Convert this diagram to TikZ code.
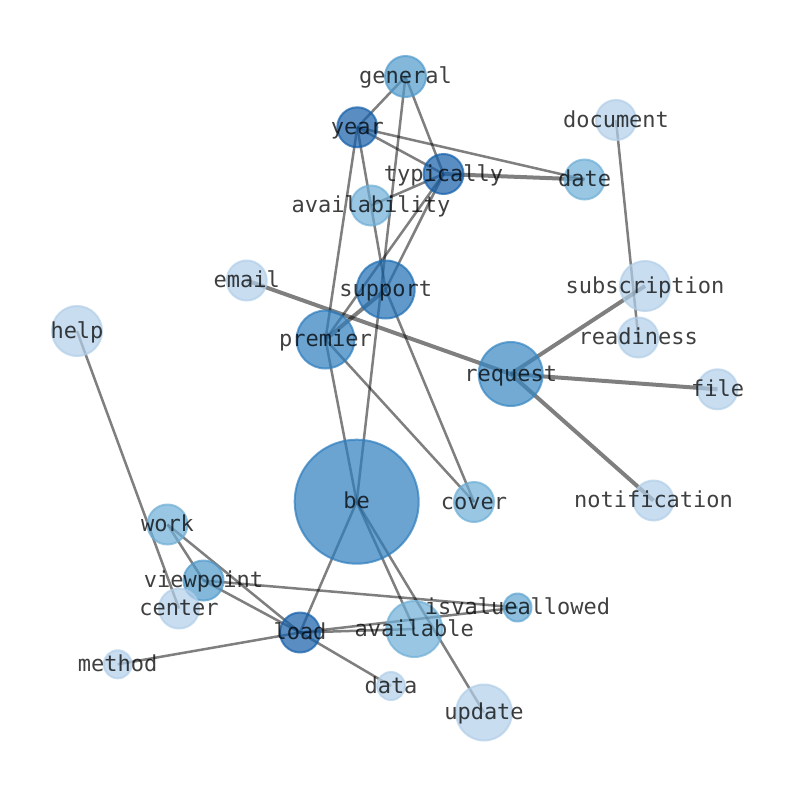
\documentclass[tikz,border=0pt]{standalone}
\usepackage{fontspec}
\setmonofont{DejaVu Sans Mono}
\definecolor{cA}{RGB}{20,95,170}
\definecolor{cB}{RGB}{30,110,180}
\definecolor{cC}{RGB}{45,125,190}
\definecolor{cD}{RGB}{55,135,195}
\definecolor{cE}{RGB}{80,155,205}
\definecolor{cF}{RGB}{95,165,210}
\definecolor{cG}{RGB}{110,175,215}
\definecolor{cL}{RGB}{178,207,233}
\begin{document}
\begin{tikzpicture}[x=1pt,y=-1pt,
  edge/.style={draw=black,draw opacity=0.5,line width=2.5pt},
  edgeb/.style={edge,line width=4pt},
  nd/.style 2 args={circle,inner sep=0pt,minimum size=#1,fill=#2,fill opacity=0.7,draw=#2,draw opacity=0.7,line width=2pt},
  lbl/.style={inner sep=0pt,anchor=base,yshift=-7pt,font=\fontsize{22}{26}\selectfont\ttfamily,text=black,text opacity=0.75}]
\fill[white] (0,0) rectangle (794,790);
\useasboundingbox (0,0) rectangle (794,790);
% positions
\coordinate (general) at (405.5,76.5);
\coordinate (year) at (357.3,127.3);
\coordinate (typically) at (443.5,174);
\coordinate (date) at (584.5,179.5);
\coordinate (document) at (616,120);
\coordinate (availability) at (371,205.5);
\coordinate (email) at (246.7,280.5);
\coordinate (support) at (385.7,289.5);
\coordinate (subscription) at (645,286);
\coordinate (premier) at (325.5,339.5);
\coordinate (readiness) at (638.3,337.5);
\coordinate (help) at (77,331);
\coordinate (request) at (510.7,374);
\coordinate (file) at (717.5,389.3);
\coordinate (be) at (356.7,501.7);
\coordinate (cover) at (474,502);
\coordinate (notification) at (653.5,500.5);
\coordinate (work) at (167.5,524.5);
\coordinate (viewpoint) at (203.5,580.5);
\coordinate (center) at (179,608.5);
\coordinate (isvalueallowed) at (517.5,607.5);
\coordinate (available) at (414.3,629);
\coordinate (load) at (300,632.5);
\coordinate (method) at (117.7,664.3);
\coordinate (data) at (391,686);
\coordinate (update) at (484,712.5);
% edges
\draw[edge] (general) -- (year);
\draw[edge] (general) -- (typically);
\draw[edge] (general) -- (be);
\draw[edge] (year) -- (typically);
\draw[edge] (year) -- (date);
\draw[edge] (year) -- (premier);
\draw[edge] (year) -- (support);
\draw[edgeb] (typically) -- (date);
\draw[edge] (typically) -- (availability);
\draw[edge] (typically) -- (premier);
\draw[edge] (typically) -- (support);
\draw[edgeb] (support) -- (premier);
\draw[edge] (support) -- (cover);
\draw[edge] (premier) -- (be);
\draw[edge] (premier) -- (cover);
\draw[edgeb] (email) -- (request);
\draw[edgeb] (request) -- (subscription);
\draw[edgeb] (request) -- (file);
\draw[edgeb] (request) -- (notification);
\draw[edge] (document) -- (readiness);
\draw[edge] (help) -- (center);
\draw[edge] (be) -- (load);
\draw[edge] (be) -- (available);
\draw[edge] (be) -- (update);
\draw[edge] (work) -- (viewpoint);
\draw[edge] (work) -- (load);
\draw[edge] (viewpoint) -- (load);
\draw[edge] (viewpoint) -- (isvalueallowed);
\draw[edge] (load) -- (available);
\draw[edge] (load) -- (isvalueallowed);
\draw[edge] (load) -- (method);
\draw[edge] (load) -- (data);
% nodes
\node[nd={41}{cE}] (n-general) at (general) {};
\node[nd={40}{cA}] (n-year) at (year) {};
\node[nd={40}{cA}] (n-typically) at (typically) {};
\node[nd={40}{cG}] (n-date) at (date) {};
\node[nd={40}{cL}] (n-document) at (document) {};
\node[nd={40}{cG}] (n-availability) at (availability) {};
\node[nd={40}{cL}] (n-email) at (email) {};
\node[nd={58}{cB}] (n-support) at (support) {};
\node[nd={50}{cL}] (n-subscription) at (subscription) {};
\node[nd={58}{cC}] (n-premier) at (premier) {};
\node[nd={40}{cL}] (n-readiness) at (readiness) {};
\node[nd={50}{cL}] (n-help) at (help) {};
\node[nd={64}{cD}] (n-request) at (request) {};
\node[nd={40}{cL}] (n-file) at (file) {};
\node[nd={124}{cC}] (n-be) at (be) {};
\node[nd={40}{cG}] (n-cover) at (cover) {};
\node[nd={40}{cL}] (n-notification) at (notification) {};
\node[nd={40}{cG}] (n-work) at (work) {};
\node[nd={40}{cE}] (n-viewpoint) at (viewpoint) {};
\node[nd={40}{cL}] (n-center) at (center) {};
\node[nd={28}{cF}] (n-isvalueallowed) at (isvalueallowed) {};
\node[nd={56}{cG}] (n-available) at (available) {};
\node[nd={40}{cA}] (n-load) at (load) {};
\node[nd={28}{cL}] (n-method) at (method) {};
\node[nd={28}{cL}] (n-data) at (data) {};
\node[nd={56}{cL}] (n-update) at (update) {};
% labels
\node[lbl] (t-general) at (general) {general};
\node[lbl] (t-year) at (year) {year};
\node[lbl] (t-typically) at (typically) {typically};
\node[lbl] (t-date) at (date) {date};
\node[lbl] (t-document) at (document) {document};
\node[lbl] (t-availability) at (availability) {availability};
\node[lbl] (t-email) at (email) {email};
\node[lbl] (t-support) at (support) {support};
\node[lbl] (t-subscription) at (subscription) {subscription};
\node[lbl] (t-premier) at (premier) {premier};
\node[lbl] (t-readiness) at (readiness) {readiness};
\node[lbl] (t-help) at (help) {help};
\node[lbl] (t-request) at (request) {request};
\node[lbl] (t-file) at (file) {file};
\node[lbl] (t-be) at (be) {be};
\node[lbl] (t-cover) at (cover) {cover};
\node[lbl] (t-notification) at (notification) {notification};
\node[lbl] (t-work) at (work) {work};
\node[lbl] (t-viewpoint) at (viewpoint) {viewpoint};
\node[lbl] (t-center) at (center) {center};
\node[lbl] (t-isvalueallowed) at (isvalueallowed) {isvalueallowed};
\node[lbl] (t-available) at (available) {available};
\node[lbl] (t-load) at (load) {load};
\node[lbl] (t-method) at (method) {method};
\node[lbl] (t-data) at (data) {data};
\node[lbl] (t-update) at (update) {update};
\end{tikzpicture}
\end{document}
